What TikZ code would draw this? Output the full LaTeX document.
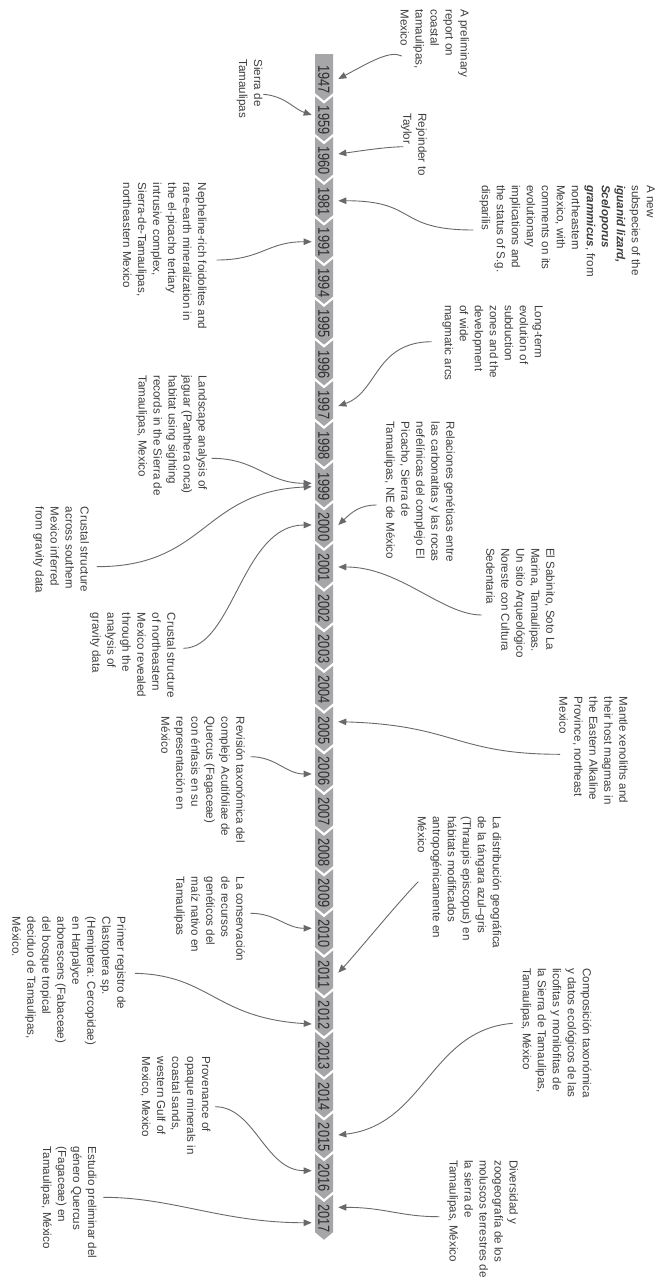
\documentclass[tikz,border=0pt]{standalone}
\usepackage{fontspec}
\usepackage{graphicx}
\setmainfont{Liberation Sans}
\usetikzlibrary{arrows.meta,calc}
\definecolor{barfill}{RGB}{166,166,168}
\definecolor{yeartext}{RGB}{45,45,45}
\definecolor{notetext}{RGB}{62,62,62}
\definecolor{linkgray}{RGB}{105,105,108}
\tikzset{
  yearlbl/.style={rotate=-90, inner sep=0, text=yeartext, font=\fontsize{16}{16}\selectfont},
  note/.style={rotate=-90, anchor=north west, inner sep=0, align=left, text=notetext,
               font=\fontsize{11.6}{15}\selectfont},
  link/.style={draw=linkgray, line width=0.9pt, -{Triangle[length=8pt,width=6.5pt]}},
}
\begin{document}
\begin{tikzpicture}[x=1pt,y=-1pt]
\path[use as bounding box, fill=white] (0,0) rectangle (661,1282);

% timeline bar with chevron separators
\fill[barfill] (315,54) -- (333,54) -- (333,1232.2) -- (324,1239.7) -- (315,1232.2) -- cycle;
\foreach \i in {1,...,28}
  \draw[white, line width=2.2pt, line join=miter]
    (314,{54+\i*40.68-0.8}) -- (324,{54+\i*40.68+7.5}) -- (334,{54+\i*40.68-0.8});

% years
\foreach \yr [count=\i from 0] in {1947,1959,1960,1981,1991,1994,1995,1996,1997,1998,1999,
    2000,2001,2002,2003,2004,2005,2006,2007,2008,2009,2010,2011,2012,2013,2014,2015,2016,2017}
  \node[yearlbl] (y\yr) at (323.8,{79.5+\i*40.68}) {\scalebox{0.8}[1]{\yr}};

% arrow tips beside the bar
\coordinate (tR1947) at ($(y1947)+(14.5,-0.5)$);
\coordinate (tR1960) at ($(y1960)+(14.5,-6.9)$);
\coordinate (tR1981) at ($(y1981)+(14.5,-0.8)$);
\coordinate (tR1997) at ($(y1997)+(14.5,1.1)$);
\coordinate (tR2000) at ($(y2000)+(14.5,-2)$);
\coordinate (tR2001) at ($(y2001)+(14.5,-0.7)$);
\coordinate (tR2005) at ($(y2005)+(14.5,-8.7)$);
\coordinate (tR2011) at ($(y2011)+(14.5,-1.8)$);
\coordinate (tR2015) at ($(y2015)+(14.5,-2.2)$);
\coordinate (tR2017) at ($(y2017)+(14.5,-11.2)$);
\coordinate (tL1959) at ($(y1959)+(-12.1,-5.2)$);
\coordinate (tL1991) at ($(y1991)+(-12.1,-0.5)$);
\coordinate (tL1999a) at ($(y1999)+(-12.1,-3)$);
\coordinate (tL1999b) at ($(y1999)+(-12.1,0.4)$);
\coordinate (tL2000) at ($(y2000)+(-12.1,-2)$);
\coordinate (tL2006) at ($(y2006)+(-12.1,2.9)$);
\coordinate (tL2010) at ($(y2010)+(-12.1,-5.5)$);
\coordinate (tL2012) at ($(y2012)+(-12.1,8.9)$);
\coordinate (tL2016) at ($(y2016)+(-12.1,-7.2)$);
\coordinate (tL2017) at ($(y2017)+(-12.1,4.2)$);

% notes on the right
\node[note] (nR1) at (469.3,9.3) {A preliminary\\report on\\coastal\\tamaulipas,\\Mexico};
\node[note] (nR2) at (427,113) {Rejoinder to\\Taylor};
\node[note] (nR3) at (655,185) {A new\\subspecies of the\\\textbf{\textit{iguanid lizard,}}\\\textbf{\textit{Sceloporus}}\\\textbf{\textit{grammicus}}, from\\northeastern\\Mexico, with\\comments on its\\evolutionary\\implications and\\the status of S.g.\\disparilis};
\node[note] (nR4) at (543,305) {Long-term\\evolution of\\subduction\\zones and the\\development\\of wide\\magmatic arcs};
\node[note] (nR5) at (455,421.7) {Relaciones genéticas entre\\las carbonatitas y las rocas\\nefelínicas del complejo El\\Picacho, Sierra de\\Tamaulipas, NE de México};
\node[note] (nR6) at (555,548) {El Sabinito, Soto La\\Marina, Tamaulipas.\\Un sitio Arqueológico\\Noreste con Cultura\\Sedentaria};
\node[note] (nR7) at (628,696.7) {Mantle xenoliths and\\their host magmas in\\the Eastern Alkaline\\Province, northeast\\Mexico};
\node[note] (nR8) at (501.7,816) {La distribución geográfica\\de la tángara azul–gris\\(Thraupis episcopus) en\\hábitats modificados\\antropogénicamente en\\México};
\node[note] (nR9) at (591.7,968) {Composición taxonómica\\y datos ecológicos de las\\licofitas y monilofitas de\\la Sierra de Tamaulipas,\\Tamaulipas, México};
\node[note] (nR10) at (518.3,1160) {Diversidad y\\zoogeografía de los\\moluscos terrestres de\\la sierra de\\Tamaulipas, México};

% notes on the left
\node[note] (nL1) at (262.7,59.3) {Sierra de\\Tamaulipas};
\node[note] (nL2) at (206.7,182.7) {Nepheline-rich foidolites and\\rare-earth mineralization in\\the el-picacho tertiary\\intrusive complex,\\Sierra-de-Tamaulipas,\\northeastern Mexico};
\node[note] (nL3) at (207.3,375) {Landscape analysis of\\jaguar (Panthera onca)\\habitat using sighting\\records in the Sierra de\\Tamaulipas, Mexico};
\node[note] (nL4) at (89.3,506.7) {Crustal structure\\across southern\\Mexico inferred\\from gravity data};
\node[note] (nL5) at (176,612.7) {Crustal structure\\of northeastern\\Mexico revealed\\through the\\analysis of\\gravity data};
\node[note] (nL6) at (245,716.7) {Revisión taxonómica del\\complejo Acutifoliae de\\Quercus (Fagaceae)\\con énfasis en su\\representación en\\México};
\node[note] (nL7) at (245,876.7) {La conservación\\de recursos\\genéticos del\\maíz nativo en\\Tamaulipas};
\node[note] (nL8) at (126,916.7) {Primer registro de\\Clastoptera sp.\\(Hemiptera: Cercopidae)\\en Harpalyce\\arborescens (Fabaceae)\\del bosque tropical\\deciduo de Tamaulipas,\\México.};
\node[note] (nL9) at (210.7,1056.7) {Provenance of\\opaque minerals in\\coastal sands,\\western Gulf of\\Mexico, Mexico};
\node[note] (nL10) at (96.7,1146.7) {Estudio preliminar del\\género Quercus\\(Fagaceae) en\\Tamaulipas, México};

% connector start points next to the notes
\coordinate (sR1) at (401.7,56);
\coordinate (sR2) at (403.3,146.7);
\coordinate (sR3) at (473.3,230);
\coordinate (sR4) at (431.7,341.7);
\coordinate (sR5) at (376.7,505);
\coordinate (sR6) at (481.7,615);
\coordinate (sR7) at (560,754.3);
\coordinate (sR8) at (418.3,881.7);
\coordinate (sR9) at (512.7,1023.3);
\coordinate (sR10) at (439.3,1216.7);
\coordinate (sL1) at (263.3,94.3);
\coordinate (sL2) at (216.7,260);
\coordinate (sL3) at (211.7,458.3);
\coordinate (sL4) at (96.7,566.7);
\coordinate (sL5) at (183.3,648.3);
\coordinate (sL6) at (250.7,756.7);
\coordinate (sL7) at (250.7,913.3);
\coordinate (sL8) at (135,973.3);
\coordinate (sL9) at (215,1106.7);
\coordinate (sL10) at (103.3,1197.3);

% connectors, right side
\draw[link] (sR1) .. controls (390,50) and (370,62) .. (tR1947);
\draw[link] (sR2) .. controls (385,147) and (360,151) .. (tR1960);
\draw[link] (sR3) .. controls (395.3,230) and (418.3,200.7) .. (tR1981);
\draw[link] (sR4) .. controls (375,342) and (378,392) .. (tR1997);
\draw[link] (sR5) .. controls (360,505) and (352,512) .. (tR2000);
\draw[link] (sR6) .. controls (442,615) and (400,567) .. (tR2001);
\draw[link] (sR7) .. controls (455,754.3) and (455,725) .. (tR2005);
\draw[link] (sR8) .. controls (400,900) and (355,955) .. (tR2011);
\draw[link] (sR9) .. controls (430,1030) and (425,1125) .. (tR2015);
\draw[link] (sR10) .. controls (400,1216.7) and (385,1207.3) .. (tR2017);

% connectors, left side
\draw[link] (sL1) .. controls (285,96) and (294,109) .. (tL1959);
\draw[link] (sL2) .. controls (262,260) and (267,241.7) .. (tL1991);
\draw[link] (sL3) .. controls (256.7,458.3) and (266.7,483.3) .. (tL1999a);
\draw[link] (sL4) .. controls (206.7,566.7) and (201.7,491.7) .. (tL1999b);
\draw[link] (sL5) .. controls (233.3,648.3) and (241.7,525) .. (tL2000);
\draw[link] (sL6) .. controls (276,756.7) and (286,774) .. (tL2006);
\draw[link] (sL7) .. controls (276,913.3) and (286,928.3) .. (tL2010);
\draw[link] (sL8) .. controls (210,975) and (215,1018) .. (tL2012);
\draw[link] (sL9) .. controls (255,1106.7) and (265,1170.7) .. (tL2016);
\draw[link] (sL10) .. controls (173,1197.3) and (222,1222.7) .. (tL2017);
\end{tikzpicture}
\end{document}
